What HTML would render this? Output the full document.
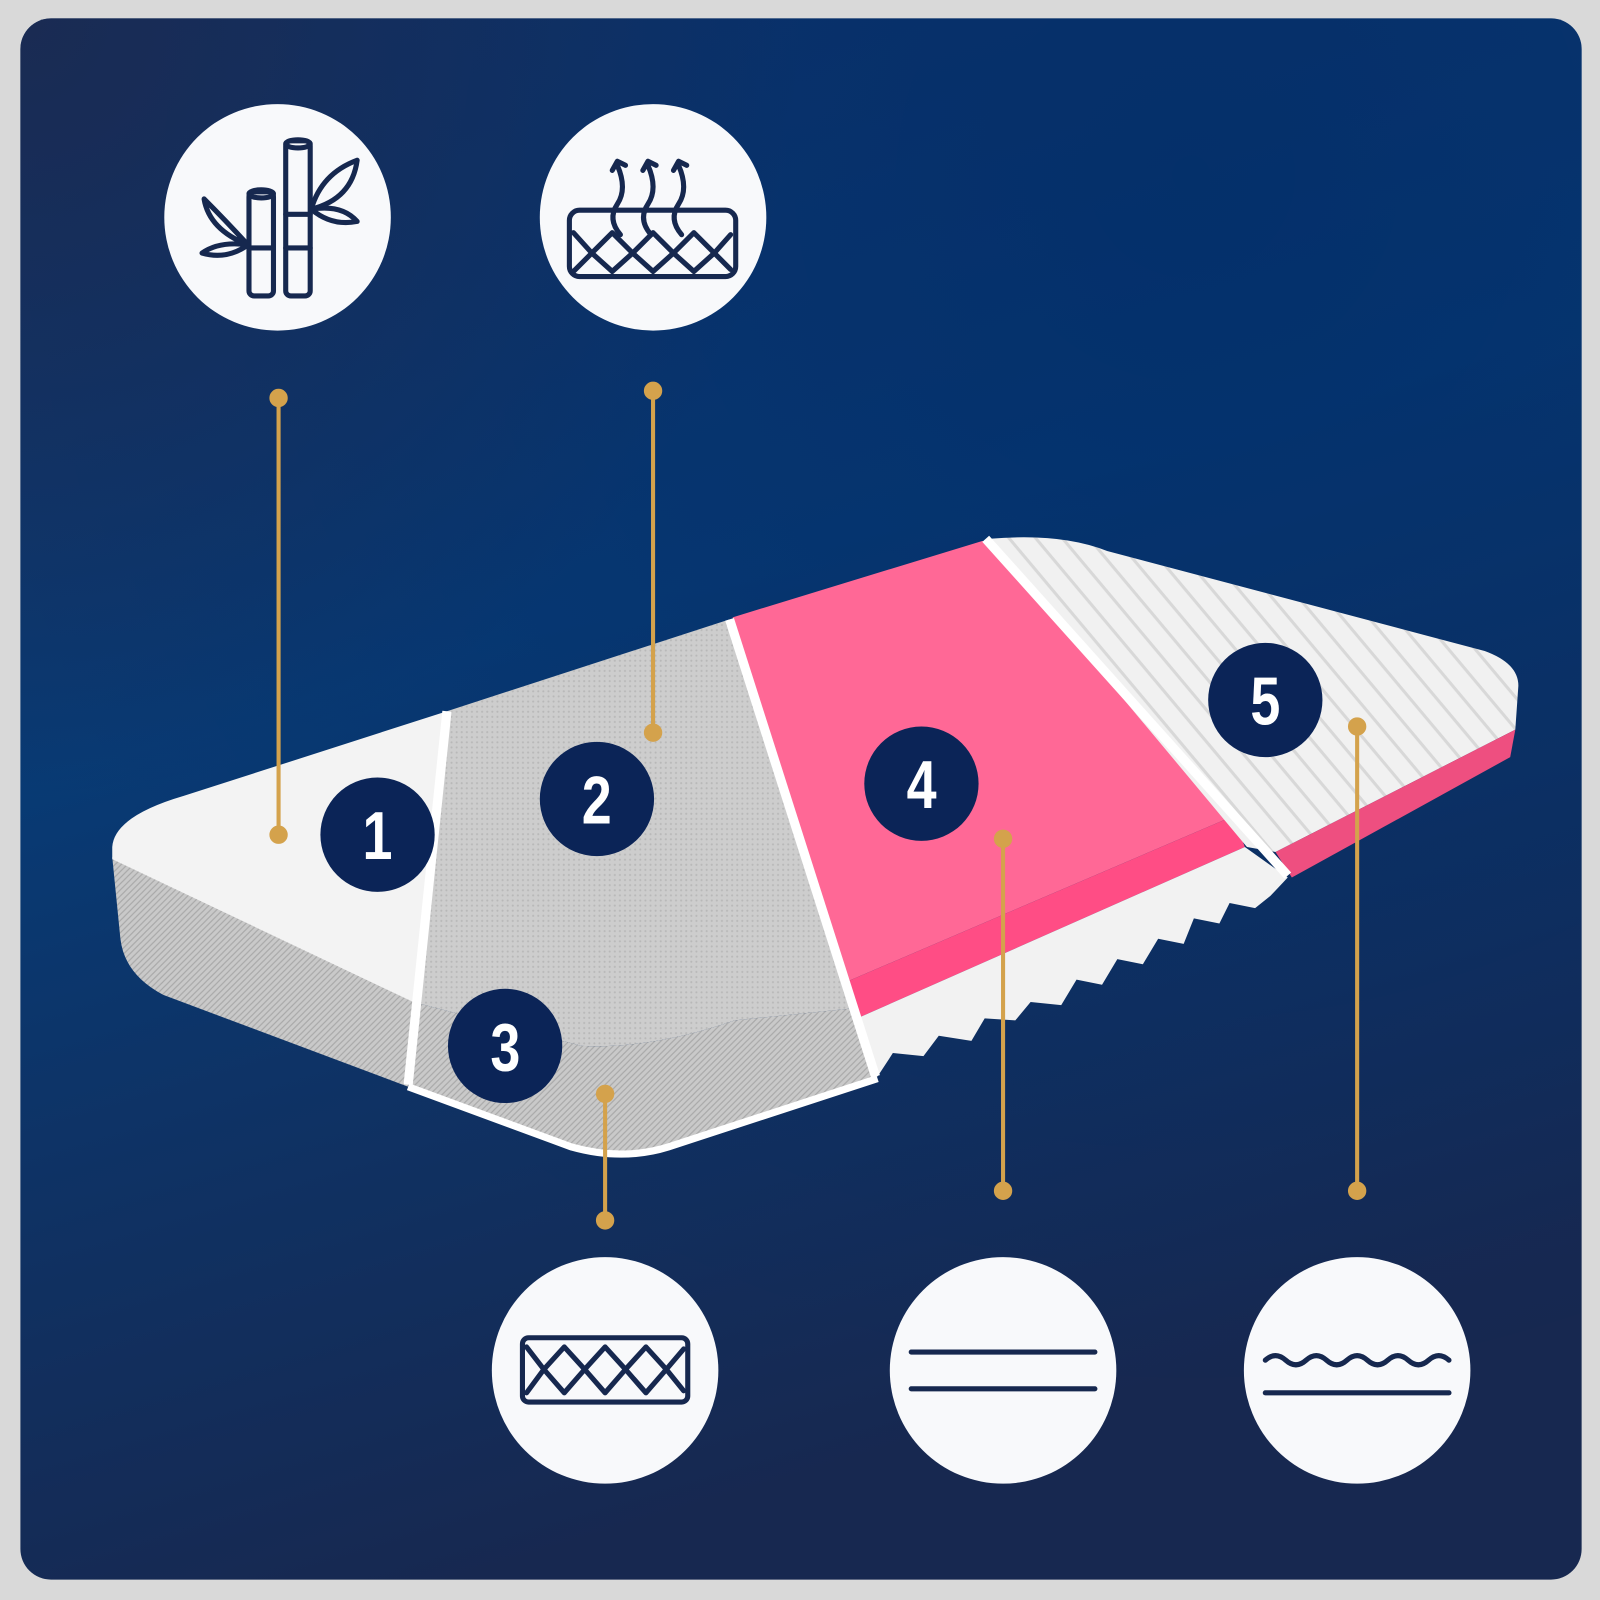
<!DOCTYPE html>
<html><head><meta charset="utf-8"><style>
html,body{margin:0;padding:0;width:1600px;height:1600px;overflow:hidden;background:#d9d9d9}
svg{display:block}
</style></head><body>
<svg width="1600" height="1600" viewBox="0 0 1568 1568" xmlns="http://www.w3.org/2000/svg">
<defs>
<linearGradient id="bg" x1="0" y1="0" x2="0.3" y2="1">
<stop offset="0" stop-color="#10336a"/><stop offset="0.45" stop-color="#083a74"/><stop offset="1" stop-color="#172850"/>
</linearGradient>
<radialGradient id="bg2" cx="0.75" cy="0.1" r="0.8"><stop offset="0" stop-color="#002a66" stop-opacity="0.6"/><stop offset="1" stop-color="#002a66" stop-opacity="0"/></radialGradient>
<radialGradient id="bg3" cx="0" cy="0" r="0.5"><stop offset="0" stop-color="#1b2a50" stop-opacity="0.9"/><stop offset="1" stop-color="#1b2a50" stop-opacity="0"/></radialGradient>
<pattern id="mesh" width="6" height="6" patternUnits="userSpaceOnUse"><rect width="6" height="6" fill="#c9c9c9"/><path d="M0 6L6 0M-1 1L1 -1M5 7L7 5" stroke="#a9a9a9" stroke-width="1.2"/></pattern>
<pattern id="mesh2" width="5" height="5" patternUnits="userSpaceOnUse"><rect width="5" height="5" fill="#cdcdcd"/><circle cx="2.5" cy="2.5" r="1" fill="#b8b8b8"/></pattern>
<pattern id="stripes" width="20" height="20" patternUnits="userSpaceOnUse" patternTransform="rotate(50)"><rect width="20" height="20" fill="#f1f1f1"/><rect width="20" height="3" fill="#d8d8d8"/></pattern>
</defs>
<rect x="20" y="18" width="1530" height="1530" rx="30" fill="url(#bg)"/>
<rect x="20" y="18" width="1530" height="1530" rx="30" fill="url(#bg2)"/>
<rect x="20" y="18" width="1530" height="1530" rx="30" fill="url(#bg3)"/>

<path d="M110 840 L405 980 L400 1065 L160 975 Q122 955 118 920 Z" fill="url(#mesh)"/>
<path d="M438 697 L180 780 Q112 800 110 830 L110 842 L405 982 Z" fill="#f3f3f3"/>
<path d="M438 697 L715 607 L838 988 L720 1000 Q640 1028 570 1025 L405 982 Z" fill="url(#mesh2)"/>
<path d="M405 982 L570 1025 Q640 1028 720 1000 L838 988 L860 1055 L655 1122 Q610 1136 560 1122 L400 1065 Z" fill="url(#mesh)"/>
<path d="M400 1065 L560 1124 Q610 1138 655 1124 L860 1057" fill="none" stroke="#fff" stroke-width="7"/>
<path d="M718 605 L963 530 L1208 800 L830 962 Z" fill="#ff6896"/>
<path d="M830 962 L1208 800 L1220 830 L840 998 Z" fill="#ff4d85"/>
<path d="M840 998 L1220 830 L1262 860 L1245 878 L1230 890 L1205 885 L1195 905 L1170 900 L1160 925 L1135 920 L1120 945 L1095 940 L1080 965 L1055 960 L1040 985 L1010 982 L995 1000 L965 998 L952 1020 L920 1015 L905 1035 L875 1032 L860 1055 Z" fill="#f2f2f2"/>
<path d="M970 528 Q1040 522 1085 540 L1455 638 Q1488 650 1488 672 L1485 715 L1250 835 L1222 830 Z" fill="url(#stripes)"/>
<path d="M1250 835 L1485 715 L1480 742 L1266 860 Z" fill="#ee4f80"/>
<path d="M438 697 L400 1063" stroke="#fff" stroke-width="9"/>
<path d="M715 607 L858 1055" stroke="#fff" stroke-width="9"/>
<path d="M966 528 L1262 858" stroke="#fff" stroke-width="9"/>

<g stroke="#d4a24c" stroke-width="4" fill="#d4a24c">
<line x1="273" y1="390" x2="273" y2="818"/><circle cx="273" cy="390" r="7"/><circle cx="273" cy="818" r="7"/>
<line x1="640" y1="383" x2="640" y2="718"/><circle cx="640" cy="383" r="7"/><circle cx="640" cy="718" r="7"/>
<line x1="593" y1="1072" x2="593" y2="1196"/><circle cx="593" cy="1072" r="7"/><circle cx="593" cy="1196" r="7"/>
<line x1="983" y1="822" x2="983" y2="1167"/><circle cx="983" cy="822" r="7"/><circle cx="983" cy="1167" r="7"/>
<line x1="1330" y1="712" x2="1330" y2="1167"/><circle cx="1330" cy="712" r="7"/><circle cx="1330" cy="1167" r="7"/>
</g>

<g fill="#0b2457" font-family="Liberation Sans, sans-serif" font-weight="bold" font-size="66" text-anchor="middle">
<circle cx="370" cy="818" r="56"/><circle cx="585" cy="783" r="56"/><circle cx="495" cy="1025" r="56"/><circle cx="903" cy="768" r="56"/><circle cx="1240" cy="686" r="56"/>
<g fill="#fff" transform="scale(0.8,1)">
<text x="462.5" y="842">1</text><text x="731" y="807">2</text><text x="619" y="1049">3</text><text x="1129" y="792">4</text><text x="1550" y="710">5</text>
</g></g>

<g fill="#f8f9fb">
<circle cx="272" cy="213" r="111"/><circle cx="640" cy="213" r="111"/><circle cx="593" cy="1343" r="111"/><circle cx="983" cy="1343" r="111"/><circle cx="1330" cy="1343" r="111"/>
</g>
<g fill="none" stroke="#16284f" stroke-width="5" stroke-linecap="round" stroke-linejoin="round">
<rect x="244" y="188" width="24" height="102" rx="5"/><ellipse cx="256" cy="190" rx="12" ry="4"/><line x1="244" y1="243" x2="268" y2="243"/>
<rect x="280" y="138" width="24" height="152" rx="5"/><ellipse cx="292" cy="141" rx="12" ry="4"/><line x1="280" y1="210" x2="304" y2="210"/><line x1="280" y1="243" x2="304" y2="243"/>
<path d="M243 240 Q220 215 200 195 Q205 225 243 240Z"/>
<path d="M243 240 Q215 236 198 248 Q222 255 243 240Z"/>
<path d="M305 205 Q315 170 350 157 Q345 195 305 205Z"/>
<path d="M305 205 Q335 200 350 217 Q325 222 305 205Z"/>
<rect x="558" y="206" width="163" height="65" rx="10"/>
<path d="M562 228 L580 248 L562 266"/>
<path d="M580 248 L600 228 L620 248 L640 228 L660 248 L680 228 L700 248 L716 230"/>
<path d="M580 248 L600 266 L620 248 L640 266 L660 248 L680 266 L700 248 L716 264"/>
<path d="M608 230 Q595 215 605 200 Q615 185 605 162 M600 167 L605 158 L613 162"/>
<path d="M638 230 Q625 215 635 200 Q645 185 635 162 M630 167 L635 158 L643 162"/>
<path d="M668 230 Q655 215 665 200 Q675 185 665 162 M660 167 L665 158 L673 162"/>
<rect x="512" y="1311" width="162" height="63" rx="6"/>
<path d="M516 1320 L533 1342 L553 1320 L573 1342 L593 1320 L613 1342 L633 1320 L653 1342 L670 1322"/>
<path d="M516 1365 L533 1342 L553 1365 L573 1342 L593 1365 L613 1342 L633 1365 L653 1342 L670 1363"/>
<line x1="893" y1="1325" x2="1073" y2="1325"/><line x1="893" y1="1361" x2="1073" y2="1361"/>
<path d="M1240 1333 Q1250 1324 1260 1333 T1280 1333 T1300 1333 T1320 1333 T1340 1333 T1360 1333 T1380 1333 T1400 1333 T1420 1333"/>
<line x1="1240" y1="1365" x2="1420" y2="1365"/>
</g>
</svg>
</body></html>
